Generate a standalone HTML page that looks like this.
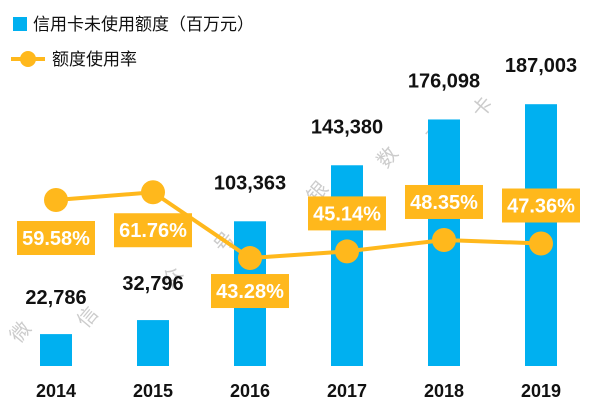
<!DOCTYPE html>
<html><head><meta charset="utf-8"><style>
html,body{margin:0;padding:0;background:#fff;}
svg{display:block;font-family:"Liberation Sans","Noto Sans CJK SC",sans-serif;}
</style></head><body>
<svg id="chart" width="601" height="418" viewBox="0 0 601 418">
  <g>
    <rect x="13" y="17" width="14" height="14" fill="#00B0F0"/>
    <text x="33" y="30" font-size="17" fill="#111">信用卡未使用额度（百万元）</text>
    <line x1="11" y1="59" x2="45" y2="59" stroke="#FFB81C" stroke-width="4"/>
    <circle cx="28" cy="59" r="8" fill="#FFB81C"/>
    <text x="52" y="65" font-size="17" fill="#111">额度使用率</text>
  </g>
  <g id="watermark" fill="#ccc" font-size="20">
    <text x="8" y="340" transform="rotate(-50 18 330)">微</text>
    <text x="75" y="325" transform="rotate(-50 85 315)">信</text>
    <text x="160" y="285" transform="rotate(-50 170 275)">众</text>
    <text x="212" y="250" transform="rotate(-50 222 240)">号</text>
    <text x="305" y="200" transform="rotate(-50 315 190)">银</text>
    <text x="375" y="165" transform="rotate(-50 385 155)">数</text>
    <text x="425" y="140" transform="rotate(-50 435 130)">观</text>
    <text x="470" y="115" transform="rotate(-50 480 105)">卡</text>
  </g>
  <g id="bars"></g>
  <g id="line"></g>
  <g id="labels"></g>
  <g id="xaxis"></g>
</svg>
<script>
const categories = ["2014","2015","2016","2017","2018","2019"];
const unusedLimit = [22786, 32796, 103363, 143380, 176098, 187003];
const unusedLabels = ["22,786","32,796","103,363","143,380","176,098","187,003"];
const usageRate = [59.58, 61.76, 43.28, 45.14, 48.35, 47.36];
const usageLabels = ["59.58%","61.76%","43.28%","45.14%","48.35%","47.36%"];
const labelBelow = [true, true, true, false, false, false];

const NS = "http://www.w3.org/2000/svg";
const baseY = 366;
function xPos(i){ return 56 + i * 97; }
function yBar(v){ return baseY - v * 0.0014; }
function yRate(v){ return 200 + (59.58 - v) * 3.56; }
function mk(tag, attrs, parent){
  const e = document.createElementNS(NS, tag);
  for (const k in attrs) e.setAttribute(k, attrs[k]);
  parent.appendChild(e);
  return e;
}
const gb = document.getElementById("bars");
const gl = document.getElementById("line");
const gt = document.getElementById("labels");
const gx = document.getElementById("xaxis");

categories.forEach((c, i) => {
  const x = xPos(i), y = yBar(unusedLimit[i]);
  const r = mk("rect", {x: x - 16, y: y, width: 32, height: baseY - y, fill: "#00B0F0"}, gb);
  
  
  const t = mk("text", {x: x, y: y - (i < 2 ? 30 : 32), "text-anchor": "middle", "font-size": "20", "font-weight": "bold", fill: "#111"}, gt);
  t.textContent = unusedLabels[i];
  
  
  const xl = mk("text", {x: x, y: 397, "text-anchor": "middle", "font-size": "18", "font-weight": "bold", fill: "#111"}, gx);
  xl.textContent = c;
  
  
});

const pts = usageRate.map((v, i) => xPos(i) + "," + yRate(v)).join(" ");
const pl = mk("polyline", {points: pts, fill: "none", stroke: "#FFB81C", "stroke-width": "4"}, gl);



usageRate.forEach((v, i) => {
  const x = xPos(i), y = yRate(v);
  const c = mk("circle", {cx: x, cy: y, r: 12, fill: "#FFB81C"}, gl);
  
  
  const cy = labelBelow[i] ? y + (i === 2 ? 33 : 38) : y - 38;
  const b = mk("rect", {x: x - 39, y: cy - 17, width: 78, height: 34, fill: "#FFB81C"}, gt);
  
  
  const t = mk("text", {x: x, y: cy + 7, "text-anchor": "middle", "font-size": "20", "font-weight": "bold", fill: "#fff"}, gt);
  t.textContent = usageLabels[i];
  
  
});
</script>
</body></html>
